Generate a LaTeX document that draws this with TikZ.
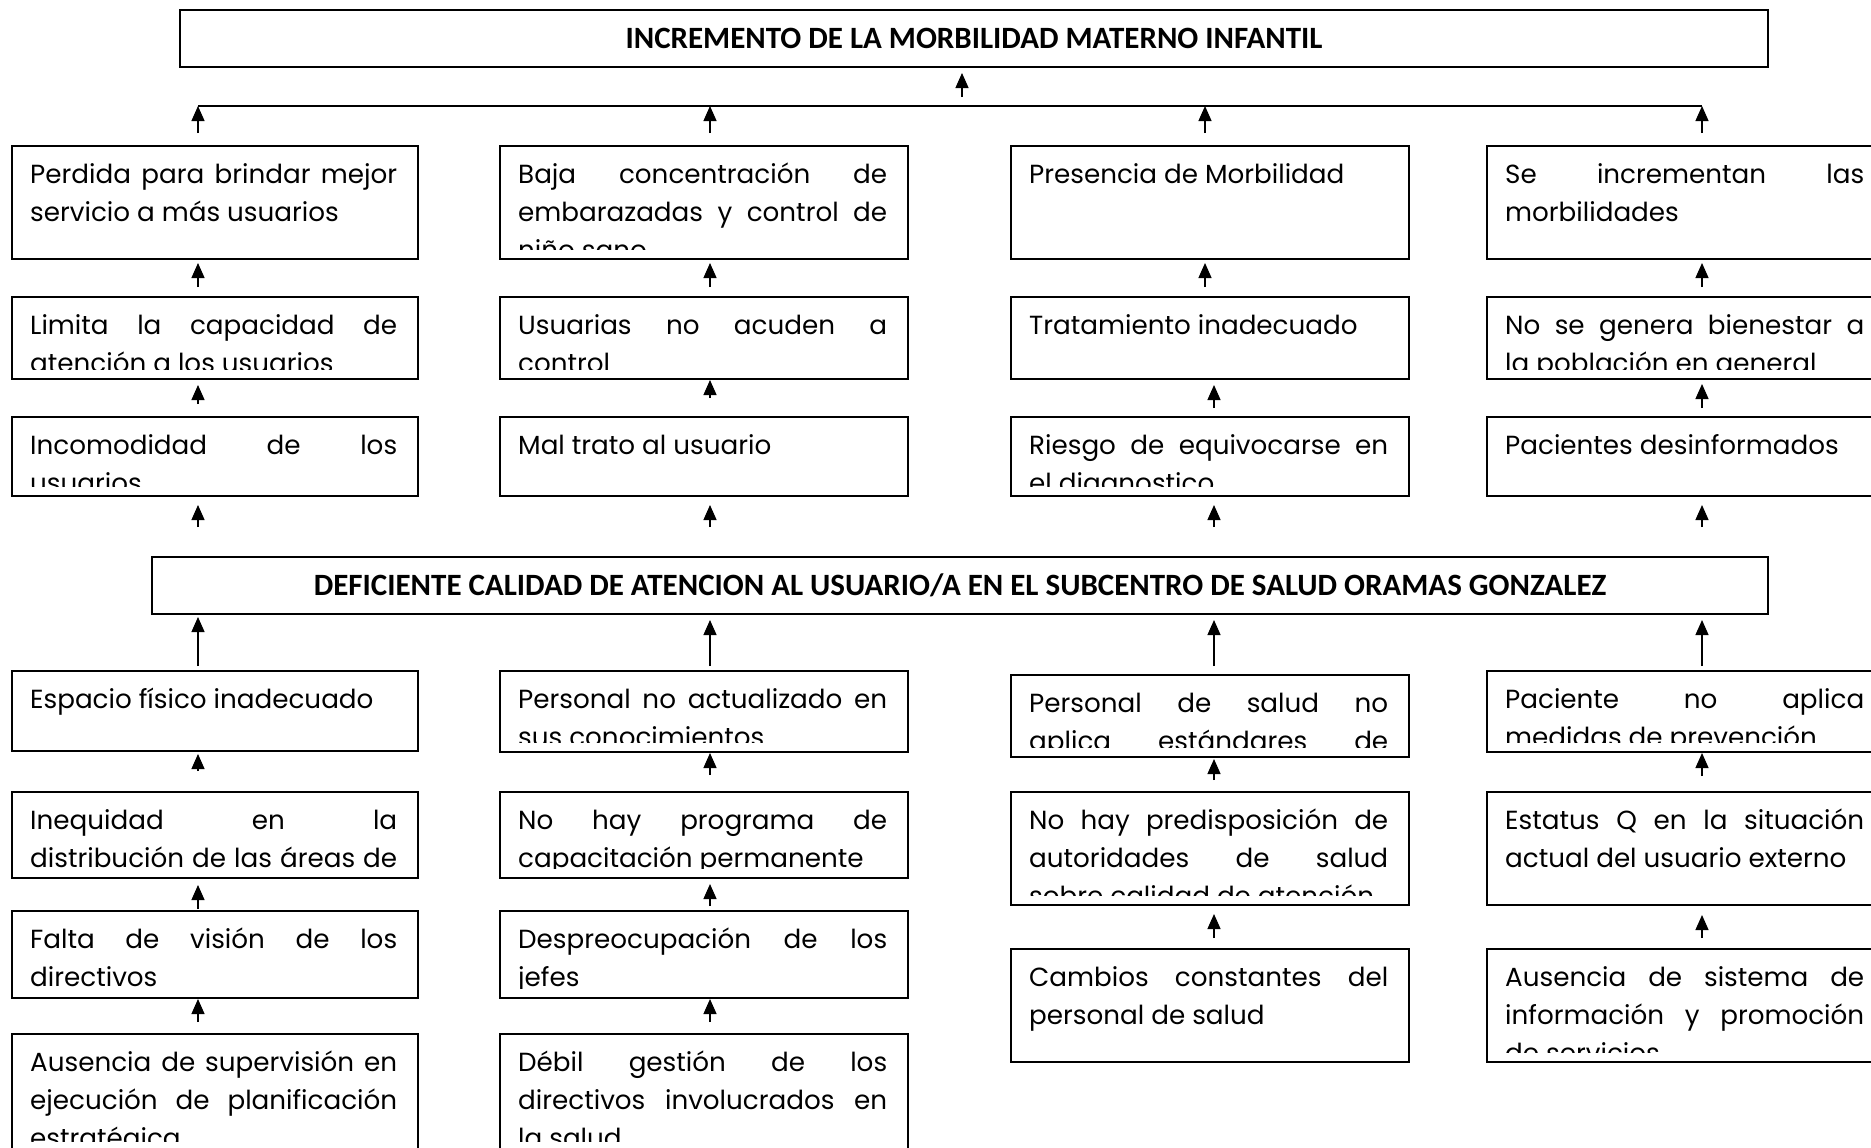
\documentclass[tikz,border=0pt]{standalone}
\usepackage{fontspec}
\setmainfont{Poppins}
\newfontfamily\titulo{Carlito}
\usetikzlibrary{arrows.meta}

\tikzset{
  % recuadro de cada causa o efecto
  caja/.style={draw=black, line width=2pt, fill=white, inner sep=0pt},
  % recuadros centrales (efecto y problema)
  titular/.style={caja, align=center,
    font=\titulo\bfseries\fontsize{31}{36}\selectfont},
  % texto justificado dentro de un recuadro
  texto/.style={inner sep=0pt, align=justify,
    font=\fontsize{26.2}{38.3}\selectfont},
  flecha/.style={-{Triangle[length=15pt, width=13pt]}, line width=1.3pt},
  barra/.style={line width=2pt},
}

% \caja{nombre}{x}{y}{ancho}{alto}{texto}: el texto se corta antes del borde inferior
\newcommand{\caja}[6]{%
  \node[caja, minimum width=#4pt, minimum height=#5pt, anchor=north west] (#1) at (#2,#3) {};
  \begin{scope}
    \clip (#1.north west) rectangle ([yshift=10.5pt]#1.south east);
    \node[texto, text width=#4pt-39pt, anchor=base west]
      at ([xshift=19pt, yshift=-38pt]#1.north west) {#6};
  \end{scope}
}

\begin{document}
\begin{tikzpicture}[x=1pt, y=-1pt]
  \clip (0,0) rectangle (1871,1148);

  % efecto principal y barra de las flechas
  \node[titular, minimum width=1588pt, minimum height=57pt, anchor=north west]
    (efecto) at (179,9) {INCREMENTO DE LA MORBILIDAD MATERNO INFANTIL};
  \coordinate (b1) at (198,106);
  \coordinate (b2) at (710,106);
  \coordinate (b3) at (1205,106);
  \coordinate (b4) at (1702,106);
  \coordinate (bc) at (962,106);
  \coordinate (k3) at (1214,0);
  \draw[barra] (b1) -- (b4);
  \draw[flecha, shorten <=9pt, shorten >=5pt] (bc) -- (bc |- efecto.south);

  % efectos
  \caja{e1a}{11}{145}{406}{113}{Perdida para brindar mejor\linebreak servicio a más usuarios}
  \caja{e1b}{11}{296}{406}{82}{Limita la capacidad de\linebreak atención a los usuarios}
  \caja{e1c}{11}{416}{406}{79}{Incomodidad de los\linebreak usuarios}
  \caja{e2a}{499}{145}{408}{113}{Baja concentración de\linebreak embarazadas y control de\linebreak niño sano}
  \caja{e2b}{499}{296}{408}{82}{Usuarias no acuden a\linebreak control}
  \caja{e2c}{499}{416}{408}{79}{Mal trato al usuario}
  \caja{e3a}{1010}{145}{398}{113}{Presencia de Morbilidad}
  \caja{e3b}{1010}{296}{398}{82}{Tratamiento inadecuado}
  \caja{e3c}{1010}{416}{398}{79}{Riesgo de equivocarse en\linebreak el diagnostico}
  \caja{e4a}{1486}{145}{398}{113}{Se incrementan las\linebreak morbilidades}
  \caja{e4b}{1486}{296}{398}{82}{No se genera bienestar a\linebreak la población en general}
  \caja{e4c}{1486}{416}{398}{79}{Pacientes desinformados}

  % problema central
  \node[titular, minimum width=1616pt, minimum height=57pt, anchor=north west]
    (problema) at (151,556) {DEFICIENTE CALIDAD DE ATENCION AL USUARIO/A EN EL SUBCENTRO DE SALUD ORAMAS GONZALEZ};

  % causas
  \caja{c1a}{11}{670}{406}{80}{Espacio físico inadecuado}
  \caja{c1b}{11}{791}{406}{86}{Inequidad en la\linebreak distribución de las áreas de\linebreak}
  \caja{c1c}{11}{910}{406}{87}{Falta de visión de los\linebreak directivos}
  \caja{c1d}{11}{1033}{406}{117}{Ausencia de supervisión en\linebreak ejecución de planificación\linebreak estratégica}
  \caja{c2a}{499}{670}{408}{81}{Personal no actualizado en\linebreak sus conocimientos}
  \caja{c2b}{499}{791}{408}{86}{No hay programa de\linebreak capacitación permanente}
  \caja{c2c}{499}{910}{408}{87}{Despreocupación de los\linebreak jefes}
  \caja{c2d}{499}{1033}{408}{117}{Débil gestión de los\linebreak directivos involucrados en\linebreak la salud}
  \caja{c3a}{1010}{674}{398}{82}{Personal de salud no\linebreak aplica estándares de\linebreak}
  \caja{c3b}{1010}{791}{398}{113}{No hay predisposición de\linebreak autoridades de salud\linebreak sobre calidad de atención}
  \caja{c3c}{1010}{948}{398}{113}{Cambios constantes del\linebreak personal de salud}
  \caja{c4a}{1486}{670}{398}{81}{Paciente no aplica\linebreak medidas de prevención}
  \caja{c4b}{1486}{791}{398}{113}{Estatus Q en la situación\linebreak actual del usuario externo}
  \caja{c4c}{1486}{948}{398}{113}{Ausencia de sistema de\linebreak información y promoción\linebreak de servicios}

  % flechas hacia la barra
  \foreach \k in {1,...,4}
    \draw[flecha, shorten <=12pt] (e\k a.north -| b\k) -- (b\k);

  % flechas entre recuadros: origen/destino/columna/hueco abajo/hueco arriba
  \foreach \a/\b/\k/\s/\e in {
      e1b/e1a/b1/9pt/3pt, e2b/e2a/b2/9pt/3pt, e3b/e3a/b3/9pt/3pt, e4b/e4a/b4/9pt/3pt,
      e1c/e1b/b1/12pt/5pt, e2c/e2b/b2/18pt/0pt, e3c/e3b/k3/8pt/5pt, e4c/e4b/b4/8pt/4pt,
      problema/e1c/b1/29pt/8pt, problema/e2c/b2/29pt/8pt,
      problema/e3c/k3/29pt/8pt, problema/e4c/b4/29pt/8pt,
      c1a/problema/b1/4pt/2pt, c2a/problema/b2/4pt/5pt,
      c3a/problema/k3/8pt/5pt, c4a/problema/b4/4pt/5pt,
      c1b/c1a/b1/20pt/2pt, c2b/c2a/b2/16pt/0pt, c3b/c3a/k3/11pt/1pt, c4b/c4a/b4/15pt/0pt,
      c1c/c1b/b1/1pt/6pt, c2c/c2b/b2/4pt/5pt, c3c/c3b/k3/10pt/8pt, c4c/c4b/b4/10pt/9pt,
      c1d/c1c/b1/11pt/0pt, c2d/c2c/b2/11pt/0pt}
    \draw[flecha, shorten <=\s, shorten >=\e] (\a.north -| \k) -- (\b.south -| \k);
\end{tikzpicture}
\end{document}
